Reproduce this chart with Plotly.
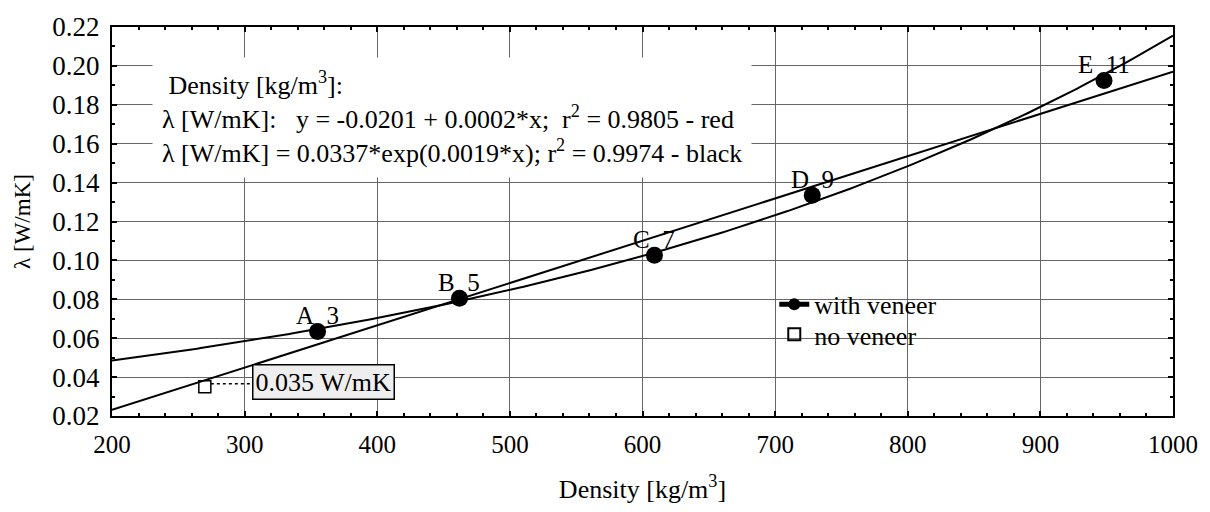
import numpy as np
import plotly.graph_objects as go

# ---- data ----
density = [355, 462, 609, 728, 948]
lam = [0.0635, 0.0805, 0.1027, 0.1335, 0.1925]
point_labels = ["A\u00a0\u00a03", "B\u00a0\u00a05", "C\u00a0\u00a07", "D\u00a0\u00a09", "E\u00a0\u00a011"]
noveneer_x = [270]
noveneer_y = [0.035]
noveneer_label = "0.035 W/mK"
x_ticks = [200, 300, 400, 500, 600, 700, 800, 900, 1000]
y_ticks = [0.02, 0.04, 0.06, 0.08, 0.10, 0.12, 0.14, 0.16, 0.18, 0.20, 0.22]

FONT = "Liberation Serif"

# fits computed from the data points
xd = np.array(density, dtype=float)
yd = np.array(lam, dtype=float)
b_lin, a_lin = np.polyfit(xd, yd, 1)
b_exp, ln_a = np.polyfit(xd, np.log(yd), 1)
xf = np.linspace(x_ticks[0], x_ticks[-1], 300)
y_lin = a_lin + b_lin * xf
y_exp = np.exp(ln_a) * np.exp(b_exp * xf)

fig = go.Figure()
fig.add_trace(go.Scatter(x=xf, y=y_lin, mode="lines", line=dict(color="black", width=2),
                         showlegend=False, hoverinfo="skip"))
fig.add_trace(go.Scatter(x=xf, y=y_exp, mode="lines", line=dict(color="black", width=2),
                         showlegend=False, hoverinfo="skip"))
fig.add_trace(go.Scatter(x=density, y=lam, mode="markers",
                         marker=dict(symbol="circle", size=17, color="black"),
                         showlegend=False))
fig.add_trace(go.Scatter(x=noveneer_x, y=noveneer_y, mode="markers",
                         marker=dict(symbol="square-open", size=12, color="black", line=dict(width=1.5)),
                         showlegend=False))
# legend entries
fig.add_trace(go.Scatter(x=[None], y=[None], mode="lines+markers", name="with veneer",
                         marker=dict(symbol="circle", size=15, color="black"),
                         line=dict(color="black", width=2), legend="legend"))
fig.add_trace(go.Scatter(x=[None], y=[None], mode="markers", name="no veneer",
                         marker=dict(symbol="square-open", size=13, color="black", line=dict(width=1.5)),
                         legend="legend2"))

# point labels
for xv, yv, t in zip(density, lam, point_labels):
    fig.add_annotation(x=xv, y=yv, text=t, showarrow=False, yshift=16,
                       font=dict(family=FONT, size=25, color="black"))

# 0.035 W/mK callout
fig.add_annotation(x=noveneer_x[0], y=noveneer_y[0], text=noveneer_label, showarrow=False,
                   xanchor="left", xshift=47, yshift=4.5, bgcolor="#eeeeee",
                   bordercolor="black", borderwidth=1.5, borderpad=2,
                   font=dict(family=FONT, size=26, color="black"))
fig.add_shape(type="line", xref="x", yref="y", xsizemode="pixel", ysizemode="pixel",
              xanchor=noveneer_x[0], yanchor=noveneer_y[0], x0=6, x1=47, y0=3, y1=3,
              line=dict(color="black", width=1.5, dash="dot"))

# equation box
eq_text = ("\u00a0Density [kg/m<sup>3</sup>]:<br>"
           "\u03bb [W/mK]:\u00a0\u00a0\u00a0y = -0.0201 + 0.0002*x;\u00a0\u00a0r<sup>2</sup> = 0.9805 - red<br>"
           "\u03bb [W/mK] = 0.0337*exp(0.0019*x); r<sup>2</sup> = 0.9974 - black")
fig.add_annotation(xref="paper", yref="paper", x=0.0377, y=0.9225, xanchor="left", yanchor="top",
                   text=eq_text, showarrow=False, align="left", bgcolor="white", borderpad=9,
                   font=dict(family=FONT, size=26, color="black"))

axis_common = dict(showline=True, linecolor="black", linewidth=2, mirror="ticks",
                   ticks="inside", ticklen=5, tickwidth=1.5, tickcolor="black",
                   showgrid=True, gridcolor="#666666", gridwidth=1, zeroline=False,
                   ticklabeloverflow="allow")

fig.update_xaxes(range=[x_ticks[0], x_ticks[-1]], tickvals=x_ticks,
                 tickfont=dict(family=FONT, size=25, color="black"), ticklabelstandoff=5,
                 minor=dict(dtick=20, ticks="inside", ticklen=3, tickcolor="black", showgrid=False),
                 title=dict(text="Density [kg/m<sup>3</sup>]", font=dict(family=FONT, size=26, color="black"),
                            standoff=23),
                 **axis_common)
fig.update_yaxes(range=[y_ticks[0], y_ticks[-1]], tickvals=y_ticks, tickformat=".2f",
                 tickfont=dict(family=FONT, size=27, color="black"), ticklabelstandoff=5,
                 minor=dict(dtick=0.01, ticks="inside", ticklen=3, tickcolor="black", showgrid=False),
                 title=dict(text="\u03bb [W/mK]", font=dict(family=FONT, size=23, color="black"),
                            standoff=15),
                 **axis_common)

legend_common = dict(xanchor="left", yanchor="top", bgcolor="rgba(0,0,0,0)",
                     font=dict(family=FONT, size=26, color="black"), itemsizing="constant")
fig.update_layout(width=1210, height=512, margin=dict(l=112, r=36, t=16, b=96),
                  paper_bgcolor="white", plot_bgcolor="white",
                  font=dict(family=FONT, size=25, color="black"),
                  legend=dict(x=0.6242, y=0.3475, **legend_common),
                  legend2=dict(x=0.6242, y=0.27, **legend_common))

# remove the default page margin so the figure fills the window exactly
fig.write_html("out.html", config={"displayModeBar": False},
               post_script="document.body.style.margin='0';")
